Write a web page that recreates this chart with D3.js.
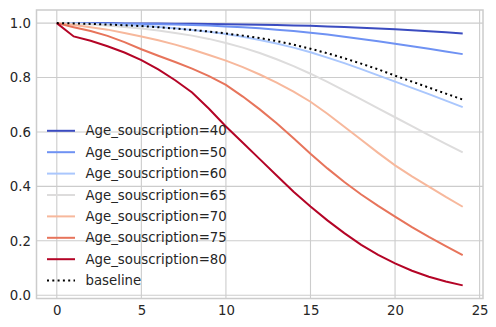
<!DOCTYPE html>
<html>
<head>
<meta charset="utf-8">
<style>
  body { margin: 0; background: #fff; }
  text { font-family: "DejaVu Sans", sans-serif; font-size: 13.3px; fill: #262626; }
</style>
</head>
<body>
<div id="chart"></div>
<script src="https://cdn.jsdelivr.net/npm/d3@7"></script>
<script>
// years since subscription
var years = d3.range(0, 25);

var ages = [40, 50, 60, 65, 70, 75, 80];

var surv40 = [1, 1, 1, 1, 0.999, 0.999, 0.999, 0.998, 0.998, 0.997, 0.996, 0.995, 0.994,
              0.993, 0.991, 0.99, 0.988, 0.986, 0.983, 0.98, 0.977, 0.974, 0.97, 0.966, 0.962];
var surv50 = [1, 1, 0.999, 0.999, 0.998, 0.997, 0.996, 0.995, 0.993, 0.991, 0.988, 0.985, 0.981,
              0.976, 0.971, 0.965, 0.958, 0.95, 0.942, 0.933, 0.924, 0.915, 0.906, 0.896, 0.886];
var surv60 = [1, 0.999, 0.998, 0.996, 0.993, 0.99, 0.986, 0.981, 0.975, 0.968, 0.96, 0.95, 0.938,
              0.925, 0.91, 0.893, 0.873, 0.853, 0.831, 0.808, 0.785, 0.762, 0.739, 0.715, 0.691];
var surv65 = [1, 0.998, 0.995, 0.991, 0.986, 0.98, 0.973, 0.964, 0.954, 0.942, 0.927, 0.91, 0.89,
              0.867, 0.842, 0.814, 0.784, 0.752, 0.72, 0.687, 0.654, 0.621, 0.588, 0.556, 0.525];
var surv70 = [1, 0.993, 0.985, 0.976, 0.964, 0.951, 0.937, 0.921, 0.903, 0.883, 0.862, 0.838, 0.811,
              0.781, 0.748, 0.711, 0.667, 0.619, 0.571, 0.523, 0.477, 0.437, 0.399, 0.361, 0.325];
var surv75 = [1, 0.985, 0.971, 0.953, 0.93, 0.904, 0.88, 0.857, 0.833, 0.805, 0.773, 0.73, 0.683,
              0.632, 0.577, 0.52, 0.466, 0.416, 0.37, 0.328, 0.289, 0.25, 0.214, 0.18, 0.147];
var surv80 = [1, 0.951, 0.935, 0.915, 0.892, 0.864, 0.83, 0.79, 0.745, 0.685, 0.62, 0.56, 0.5,
              0.44, 0.38, 0.326, 0.275, 0.228, 0.185, 0.148, 0.117, 0.09, 0.068, 0.05, 0.036];
var baseline = [1, 0.999, 0.997, 0.995, 0.992, 0.989, 0.985, 0.98, 0.975, 0.969, 0.962, 0.954, 0.945,
                0.934, 0.921, 0.906, 0.889, 0.871, 0.851, 0.83, 0.807, 0.785, 0.763, 0.741, 0.719];

var xTicks = [0, 5, 10, 15, 20, 25];
var yTicks = [0, 0.2, 0.4, 0.6, 0.8, 1.0];

var width = 496, height = 327;
// plot box (named so it doesn't clash with window.top)
var plotL = 36.5, plotR = 483, plotT = 10, plotB = 298.5;

var palette = ["#3b4cc0", "#6f92f3", "#aac7fd", "#dddcdc", "#f7b89c", "#e7745b", "#b40426"];

var series = [surv40, surv50, surv60, surv65, surv70, surv75, surv80].map(function(v, i) {
    return { label: "Age_souscription=" + ages[i], values: v, color: palette[i] };
});
series.push({ label: "baseline", values: baseline, color: "#000", dotted: true });

var svg = d3.select("#chart").append("svg")
    .attr("width", width)
    .attr("height", height);

svg.append("rect").attr("width", width).attr("height", height).attr("fill", "#fff");

// matplotlib style 5% margins
var xExt = d3.extent(years), xPad = (xExt[1] - xExt[0]) * 0.05;
var allY = d3.merge(series.map(function(s) { return s.values; }));
var yExt = d3.extent(allY), yPad = (yExt[1] - yExt[0]) * 0.05;

var x = d3.scaleLinear().domain([xExt[0] - xPad, xExt[1] + xPad]).range([plotL, plotR]);
var y = d3.scaleLinear().domain([yExt[0] - yPad, yExt[1] + yPad]).range([plotB, plotT]);

// grid
var grid = svg.append("g").attr("stroke", "#cccccc").attr("stroke-width", 1.1);
grid.selectAll(".vx").data(xTicks).enter().append("line")
    .attr("x1", function(d) { return x(d); }).attr("x2", function(d) { return x(d); })
    .attr("y1", plotT).attr("y2", plotB);
grid.selectAll(".hy").data(yTicks).enter().append("line")
    .attr("y1", function(d) { return y(d); }).attr("y2", function(d) { return y(d); })
    .attr("x1", plotL).attr("x2", plotR);

// axes (labels only, seaborn whitegrid has no tick marks)
var xAxis = svg.append("g")
    .attr("transform", "translate(0," + (plotB + 12) + ")")
    .call(d3.axisBottom(x).tickValues(xTicks).tickSize(0).tickPadding(0).tickFormat(d3.format("d")));
var yAxis = svg.append("g")
    .attr("transform", "translate(" + (plotL - 5.5) + ",0)")
    .call(d3.axisLeft(y).tickValues(yTicks).tickSize(0).tickPadding(0).tickFormat(d3.format(".1f")));
[xAxis, yAxis].forEach(function(a) {
    a.select(".domain").remove();
    a.attr("font-family", null).attr("font-size", null);
    a.selectAll("text").attr("fill", "#333");
});
xAxis.selectAll("text").attr("dy", "0.35em");

var line = d3.line()
    .x(function(d, i) { return x(years[i]); })
    .y(function(d) { return y(d); });

svg.append("g").selectAll("path").data(series).enter().append("path")
    .attr("d", function(d) { return line(d.values); })
    .attr("fill", "none")
    .attr("stroke", function(d) { return d.color; })
    .attr("stroke-width", 2)
    .attr("stroke-dasharray", function(d) { return d.dotted ? "2,3.3" : null; });

// frame
svg.append("rect")
    .attr("x", plotL).attr("y", plotT)
    .attr("width", plotR - plotL).attr("height", plotB - plotT)
    .attr("fill", "none").attr("stroke", "#cccccc").attr("stroke-width", 1.5);

// legend
var legend = svg.append("g").selectAll("g").data(series).enter().append("g")
    .attr("transform", function(d, i) { return "translate(47," + (130.8 + i * 21.4) + ")"; });
legend.append("line")
    .attr("x1", 0).attr("x2", 28)
    .attr("stroke", function(d) { return d.color; })
    .attr("stroke-width", 2)
    .attr("stroke-dasharray", function(d) { return d.dotted ? "2,3.3" : null; });
legend.append("text")
    .attr("x", 38.5).attr("dy", "0.35em")
    .attr("fill", "#333")
    .text(function(d) { return d.label; });
</script>
</body>
</html>
